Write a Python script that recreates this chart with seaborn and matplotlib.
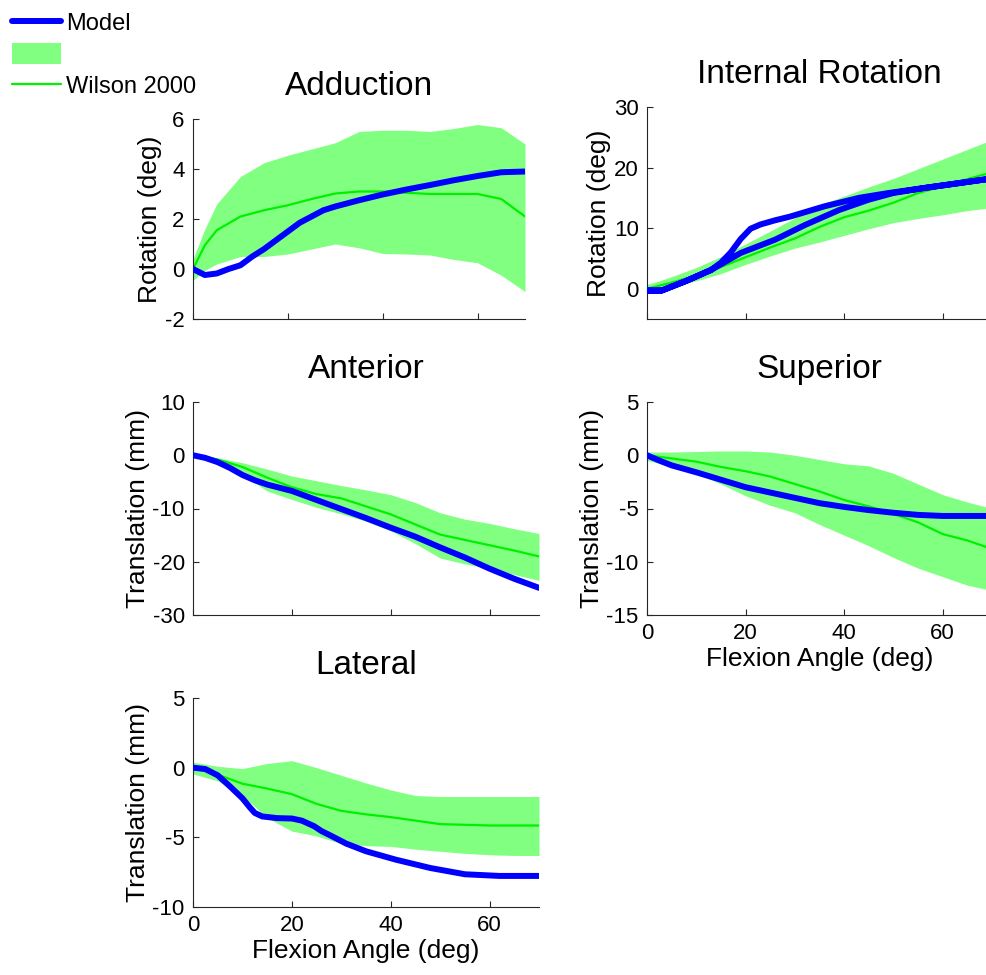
import numpy as np
import pandas as pd
import matplotlib
matplotlib.use("Agg")
import matplotlib.pyplot as plt
from matplotlib.lines import Line2D
from matplotlib.patches import Patch
import seaborn as sns

# ---------------- data ----------------
grid_x = [0, 2.5, 5, 10, 15, 20, 25, 30, 35, 40, 45, 50, 55, 60, 65, 70]

# Adduction
add_mean = [0, 0.95, 1.55, 2.1, 2.35, 2.55, 2.8, 3.02, 3.1, 3.1, 3.05, 3.0, 3.0, 3.0, 2.8, 2.1]
add_hi = [0.4, 1.6, 2.6, 3.7, 4.25, 4.55, 4.8, 5.05, 5.5, 5.55, 5.55, 5.5, 5.62, 5.78, 5.65, 5.0]
add_lo = [-0.45, -0.05, 0.2, 0.5, 0.5, 0.6, 0.8, 1.0, 0.85, 0.62, 0.6, 0.56, 0.38, 0.25, -0.25, -0.9]
add_model_x = [0, 2.5, 5, 7.5, 10, 12.5, 15, 17.5, 20, 22.5, 25, 27.5, 30, 35, 40, 45, 50, 55, 60, 65, 70]
add_model_y = [0, -0.24, -0.18, 0.0, 0.15, 0.5, 0.8, 1.15, 1.5, 1.85, 2.1, 2.35, 2.5, 2.75, 2.98, 3.18,
               3.36, 3.55, 3.72, 3.87, 3.9]

# Internal Rotation
ir_mean = [0, 0.5, 1.0, 2.2, 3.6, 5.2, 6.8, 8.3, 10.2, 11.8, 12.9, 14.2, 15.8, 16.9, 18.1, 19.2]
ir_hi = [0.7, 1.3, 2.0, 3.5, 5.3, 7.4, 9.5, 11.7, 13.8, 15.3, 16.8, 18.2, 19.8, 21.4, 23.0, 24.6]
ir_lo = [-0.5, -0.1, 0.3, 1.3, 2.5, 4.0, 5.4, 6.7, 7.7, 8.8, 9.9, 10.9, 11.6, 12.2, 12.9, 13.4]
ir_model_x = [0, 3, 8, 13, 19, 26, 32, 39, 45, 50, 56, 63, 70,
              63, 56, 49, 43, 36, 29, 26, 23, 21, 19, 17, 15, 13, 8, 3, 0]
ir_model_y = [-0.3, -0.3, 1.3, 3.1, 5.9, 8.1, 10.5, 13.0, 14.7, 15.8, 16.6, 17.4, 18.2,
              17.4, 16.6, 15.8, 15.0, 13.6, 11.9, 11.3, 10.6, 9.9, 8.2, 6.0, 4.3, 3.1, 1.3, -0.3, -0.3]

# Anterior
ant_mean = [0, -0.3, -0.8, -2.2, -4.2, -6.0, -7.3, -8.1, -9.6, -11.1, -13.0, -14.9, -15.9, -16.9, -17.9, -19.0]
ant_hi = [0, -0.2, -0.5, -1.4, -2.6, -3.9, -4.8, -5.7, -6.5, -7.4, -8.9, -10.8, -12.0, -12.8, -13.8, -14.7]
ant_lo = [-0.3, -0.8, -1.7, -3.7, -6.7, -8.3, -9.8, -11.0, -12.4, -14.2, -16.6, -19.3, -20.4, -21.3, -22.4, -23.5]
ant_model_x = [0, 2.5, 5, 7.5, 10, 12.5, 15, 20, 25, 30, 35, 40, 45, 50, 55, 60, 65, 70]
ant_model_y = [0, -0.5, -1.3, -2.4, -3.7, -4.7, -5.5, -6.7, -8.4, -10.1, -11.8, -13.6, -15.3, -17.3,
               -19.2, -21.3, -23.2, -24.9]

# Superior
sup_mean = [0, -0.15, -0.3, -0.6, -1.1, -1.5, -2.0, -2.7, -3.4, -4.2, -4.8, -5.5, -6.3, -7.4, -8.0, -8.8]
sup_hi = [0.3, 0.3, 0.3, 0.35, 0.4, 0.4, 0.3, 0.0, -0.4, -0.8, -1.0, -1.7, -2.7, -3.7, -4.4, -5.0]
sup_lo = [-0.5, -0.75, -1.0, -1.7, -2.7, -3.8, -4.7, -5.4, -6.5, -7.5, -8.5, -9.6, -10.6, -11.4, -12.2, -12.7]
sup_model_x = [0, 2.5, 5, 10, 15, 20, 25, 30, 35, 40, 45, 50, 55, 60, 65, 70]
sup_model_y = [0, -0.5, -0.95, -1.6, -2.3, -3.0, -3.5, -4.0, -4.5, -4.85, -5.15, -5.4, -5.6, -5.7, -5.7, -5.7]

# Lateral
lat_mean = [0, -0.25, -0.5, -1.15, -1.5, -1.9, -2.6, -3.1, -3.35, -3.55, -3.8, -4.05, -4.1, -4.15, -4.15, -4.15]
lat_hi = [0.4, 0.25, 0.1, -0.07, 0.3, 0.5, 0.0, -0.55, -1.1, -1.6, -2.0, -2.07, -2.07, -2.07, -2.07, -2.07]
lat_lo = [-0.45, -0.7, -0.95, -2.0, -3.6, -4.55, -4.9, -5.45, -5.6, -5.65, -5.85, -6.0, -6.15, -6.25, -6.3, -6.3]
lat_model_x = [0, 2.5, 5, 7.5, 10, 11.5, 12.5, 14, 17, 20, 22, 24.5, 26, 28, 31, 35, 41, 48, 55, 62, 70]
lat_model_y = [0, -0.1, -0.55, -1.35, -2.2, -2.85, -3.25, -3.5, -3.62, -3.65, -3.8, -4.2, -4.55, -4.9,
               -5.45, -6.0, -6.6, -7.2, -7.65, -7.77, -7.77]

titles = ["Adduction", "Internal Rotation", "Anterior", "Superior", "Lateral"]
ylabels = ["Rotation (deg)", "Rotation (deg)", "Translation (mm)", "Translation (mm)", "Translation (mm)"]
legend_labels = ["Model", "", "Wilson 2000"]
xlabel = "Flexion Angle (deg)"

# ---------------- style ----------------
sns.set_style("ticks")
plt.rcParams["font.family"] = ["Liberation Sans", "DejaVu Sans"]
plt.rcParams["axes.unicode_minus"] = False
plt.rcParams["text.color"] = "black"
plt.rcParams["axes.labelcolor"] = "black"
plt.rcParams["xtick.color"] = "black"
plt.rcParams["ytick.color"] = "black"

BLUE = "#0000ff"
GREEN = "#00f000"
FILL = "#80ff80"

W, H = 986, 975
fig = plt.figure(figsize=(W / 100, H / 100), dpi=100)

def frac(left, right, top, bottom):
    return [left / W, 1 - bottom / H, (right - left) / W, (bottom - top) / H]

positions = [
    frac(193, 525, 119, 319),
    frac(647, 992, 107, 319),
    frac(193, 539, 402, 615),
    frac(647, 992, 402, 615),
    frac(193, 539, 698, 907),
]
ylims = [(-2, 6), (-5, 30), (-30, 10), (-15, 5), (-10, 5)]
yticks = [[-2, 0, 2, 4, 6], [0, 10, 20, 30], [-30, -20, -10, 0, 10], [-15, -10, -5, 0, 5], [-10, -5, 0, 5]]
show_xlabels = [False, False, False, True, True]

panels = [
    (add_mean, add_hi, add_lo, add_model_x, add_model_y),
    (ir_mean, ir_hi, ir_lo, ir_model_x, ir_model_y),
    (ant_mean, ant_hi, ant_lo, ant_model_x, ant_model_y),
    (sup_mean, sup_hi, sup_lo, sup_model_x, sup_model_y),
    (lat_mean, lat_hi, lat_lo, lat_model_x, lat_model_y),
]

for i, (mean, hi, lo, mx, my) in enumerate(panels):
    ax = fig.add_axes(positions[i])
    ax.fill_between(grid_x, lo, hi, color=FILL, linewidth=0, zorder=1)
    df_mean = pd.DataFrame({"x": grid_x, "y": mean})
    sns.lineplot(data=df_mean, x="x", y="y", ax=ax, color=GREEN, linewidth=1.6,
                 estimator=None, sort=False, zorder=2)
    df_model = pd.DataFrame({"x": mx, "y": my})
    sns.lineplot(data=df_model, x="x", y="y", ax=ax, color=BLUE, linewidth=4.3,
                 estimator=None, sort=False, zorder=3,
                 solid_joinstyle="round", solid_capstyle="round")
    ax.set_xlim(0, 70)
    ax.set_ylim(*ylims[i])
    ax.set_yticks(yticks[i])
    ax.set_xticks([0, 20, 40, 60])
    ax.set_title(titles[i], fontsize=24, pad=17, color="black")
    ax.set_ylabel(ylabels[i], fontsize=19, labelpad=2)
    if show_xlabels[i]:
        ax.set_xlabel(xlabel, fontsize=19, labelpad=2)
        ax.tick_params(axis="x", labelbottom=True)
    else:
        ax.set_xlabel("")
        ax.tick_params(axis="x", labelbottom=False)
    ax.tick_params(direction="in", length=4, width=0.8, labelsize=16, pad=6,
                   color="#262626", labelcolor="black")
    for s in ["top", "right"]:
        ax.spines[s].set_visible(False)
    for s in ["left", "bottom"]:
        ax.spines[s].set_color("#262626")
        ax.spines[s].set_linewidth(0.8)

handles = [
    Line2D([], [], color=BLUE, linewidth=4.3),
    Patch(facecolor=FILL, edgecolor="none"),
    Line2D([], [], color=GREEN, linewidth=1.6),
]
fig.legend(handles, legend_labels, loc="upper left", bbox_to_anchor=(0.0, 1.0),
           frameon=False, fontsize=17, handlelength=2.1, handleheight=0.95,
           labelspacing=0.35, handletextpad=0.2, borderpad=0.3, borderaxespad=0.2)

fig.savefig("out.png", dpi=100)
